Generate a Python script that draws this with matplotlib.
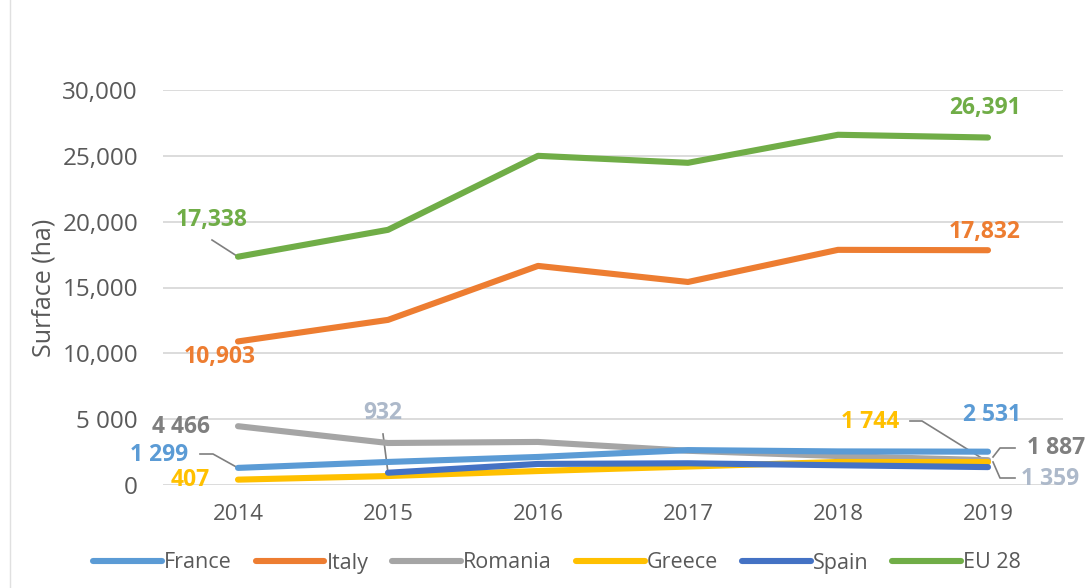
import matplotlib
matplotlib.use("Agg")
import matplotlib.pyplot as plt
from matplotlib.lines import Line2D
import numpy as np

years = ["2014", "2015", "2016", "2017", "2018", "2019"]
france = [1299, 1750, 2130, 2650, 2550, 2531]
italy = [10903, 12540, 16640, 15420, 17860, 17832]
romania = [4466, 3190, 3270, 2600, 2200, 1887]
greece = [407, 680, 1060, 1400, 1750, 1744]
spain = [np.nan, 932, 1600, 1650, 1500, 1359]
eu28 = [17338, 19380, 25000, 24470, 26600, 26391]
series_names = ["France", "Italy", "Romania", "Greece", "Spain", "EU 28"]
yticks = [0, 5000, 10000, 15000, 20000, 25000, 30000]
ytick_labels = ["0", "5 000", "10,000", "15,000", "20,000", "25,000", "30,000"]

colors = {"France": "#5B9BD5", "Italy": "#ED7D31", "Romania": "#A5A5A5",
          "Greece": "#FFC000", "Spain": "#4472C4", "EU 28": "#70AD47"}

plt.rcParams['font.family'] = ['Open Sans', 'DejaVu Sans']

fig = plt.figure(figsize=(10.89, 5.88), dpi=100)
ax = fig.add_axes([163/1089, 1-485/588, 900/1089, 395/588])

x = np.arange(len(years))
data = [france, italy, romania, greece, spain, eu28]
order = ["Romania", "France", "Greece", "Spain", "Italy", "EU 28"]
lookup = dict(zip(series_names, data))
handles = {}
for name in order:
    h, = ax.plot(x, lookup[name], color=colors[name], lw=4.4,
                 solid_capstyle='round', solid_joinstyle='round', zorder=3)
    handles[name] = h

ax.set_xlim(-0.5, 5.5)
ax.set_ylim(0, 30000)
ax.set_yticks(yticks)
ax.set_yticklabels(ytick_labels)
ax.set_xticks(x)
ax.set_xticklabels(years)
ax.tick_params(length=0, colors="#595959")
ax.tick_params(axis='y', labelsize=17.5, pad=18)
ax.tick_params(axis='x', labelsize=16, pad=14)
ax.yaxis.grid(True, color="#D9D9D9", lw=1.3)
ax.set_axisbelow(True)
for s in ax.spines.values():
    s.set_visible(False)
ax.set_ylabel("Surface (ha)", fontsize=18, color="#595959", labelpad=4)

lc = "#7F7F7F"
def lab(text, xy, color):
    ax.text(xy[0], xy[1], text, ha='center', va='center',
            fontsize=16.5, fontweight='bold', color=color, zorder=5)

def px(xp):
    return (xp - 238) / 150.0
def py(yp):
    return (485 - yp) / 0.013167

lab("17,338", (px(212), py(220)), "#70AD47")
ax.plot([px(212), 0], [py(240), eu28[0]], color=lc, lw=1.2, zorder=2)
lab("26,391", (px(985), py(108)), "#70AD47")
lab("10,903", (px(220), py(357)), "#ED7D31")
lab("17,832", (px(985), py(232)), "#ED7D31")
lab("4 466", (px(181), py(427)), "#7F7F7F")
lab("1 299", (px(159), py(455)), "#5B9BD5")
ax.plot([px(200), px(213), 0], [py(454), py(454), france[0]], color=lc, lw=1.2, zorder=2)
lab("407", (px(190), py(480)), "#FFC000")
lab("932", (px(383), py(413)), "#ADB9CA")
ax.plot([px(383), 1], [py(434), spain[1]], color=lc, lw=1.2, zorder=2)
lab("1 744", (px(870), py(422)), "#FFC000")
ax.plot([px(910), px(922), 5], [py(421), py(421), greece[5]], color=lc, lw=1.2, zorder=2)
lab("2 531", (px(992), py(415)), "#5B9BD5")
lab("1 887", (px(1056), py(448)), "#7F7F7F")
ax.plot([px(993), px(1000), px(1015)], [py(457), py(448), py(448)], color=lc, lw=1.2, zorder=2)
lab("1 359", (px(1050), py(479)), "#ADB9CA")
ax.plot([px(993), px(1000), px(1015)], [py(462), py(478), py(478)], color=lc, lw=1.2, zorder=2)

leg = fig.legend([handles[n] for n in series_names], series_names, loc='center',
                 bbox_to_anchor=(557/1089, 1-563/588), ncol=6, frameon=False,
                 fontsize=15.5, handlelength=3.2, handletextpad=0.1, columnspacing=1.1,
                 labelcolor="#595959")

fig.add_artist(Line2D([10/1089, 10/1089], [0, 1], color="#E0E0E0", lw=1))

fig.savefig("out.png", dpi=100, facecolor="white")
